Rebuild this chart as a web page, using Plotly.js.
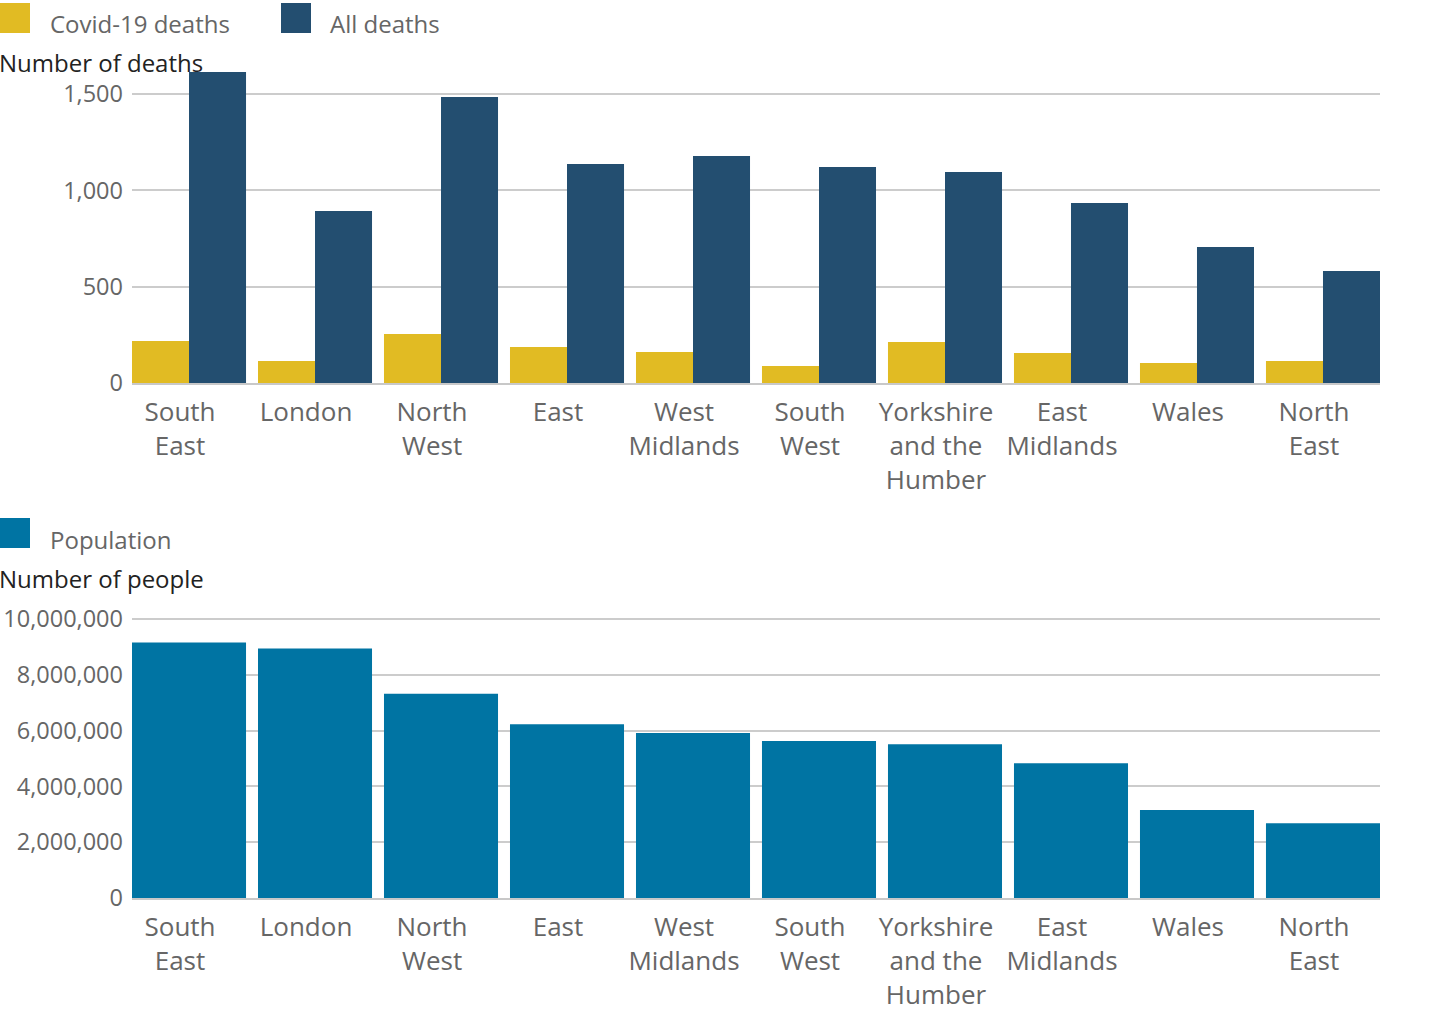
<!DOCTYPE html>
<html>
<head>
<meta charset="utf-8">
<script src="https://cdn.plot.ly/plotly-3.0.1.min.js"></script>
<style>
html,body{margin:0;padding:0;background:#fff;}
#chart{width:1448px;height:1034px;}
</style>
</head>
<body>
<div id="chart"></div>
<script>
// Data
var regionLabels = ["South<br>East", "London", "North<br>West", "East", "West<br>Midlands", "South<br>West", "Yorkshire<br>and the<br>Humber", "East<br>Midlands", "Wales", "North<br>East"];
var covidDeaths = [218, 114, 254, 187, 161, 88, 213, 156, 104, 114];
var allDeaths = [1614, 893, 1484, 1137, 1178, 1121, 1095, 934, 706, 581];
var population = [9160000, 8940000, 7320000, 6230000, 5910000, 5630000, 5510000, 4830000, 3150000, 2680000];
var deathsTicks = [0, 500, 1000, 1500];
var popTicks = [0, 2000000, 4000000, 6000000, 8000000, 10000000];
var seriesNames = ["Covid-19 deaths", "All deaths", "Population"];
var deathsTitle = "Number of deaths";
var popTitle = "Number of people";

var colYellow = "#e1bb23";
var colNavy = "#234e70";
var colTeal = "#0074a3";

var H = 1034;
function py(px){ return 1 - px / H; }

var traces = [
  {type:"bar", x:regionLabels, y:covidDeaths, name:seriesNames[0], marker:{color:colYellow}, xaxis:"x", yaxis:"y", hoverinfo:"y"},
  {type:"bar", x:regionLabels, y:allDeaths, name:seriesNames[1], marker:{color:colNavy}, xaxis:"x", yaxis:"y", hoverinfo:"y"},
  {type:"bar", x:regionLabels, y:population, name:seriesNames[2], marker:{color:colTeal}, xaxis:"x2", yaxis:"y2", hoverinfo:"y"}
];

var font = "'Open Sans', sans-serif";
var tickFontX = {family:font, size:26, color:"#666666"};
var tickFontY = {family:font, size:23.5, color:"#666666"};
var gap = 0.095;
var xr = [-0.5 + gap/2, regionLabels.length - 0.5 - gap/2];

var layout = {
  width:1448, height:1034,
  margin:{l:132, r:68, t:0, b:0},
  paper_bgcolor:"#ffffff", plot_bgcolor:"#ffffff",
  showlegend:false,
  barmode:"group", bargap:gap, bargroupgap:0,
  font:{family:font},
  xaxis:{domain:[0,1], anchor:"y", range:xr, tickfont:tickFontX, showgrid:false, zeroline:false, showline:true, linecolor:"#c8c8c8", linewidth:2, ticks:"", tickangle:0, ticklabelstandoff:5, ticklabelshift:-9},
  yaxis:{domain:[py(383), py(65)], anchor:"x", range:[0, 318/0.192667], tickvals:deathsTicks, ticktext:deathsTicks.map(function(v){return v.toLocaleString("en-GB");}), tickfont:tickFontY, showgrid:true, gridcolor:"#cccccc", gridwidth:2, zeroline:false, showline:false, ticks:"", ticklabelstandoff:8},
  xaxis2:{domain:[0,1], anchor:"y2", range:xr, tickfont:tickFontX, showgrid:false, zeroline:false, showline:true, linecolor:"#c8c8c8", linewidth:2, ticks:"", tickangle:0, ticklabelstandoff:5, ticklabelshift:-9},
  yaxis2:{domain:[py(898), py(614)], anchor:"x2", range:[0, 284/27.9*1000000], tickvals:popTicks, ticktext:popTicks.map(function(v){return v.toLocaleString("en-GB");}), tickfont:tickFontY, showgrid:true, gridcolor:"#cccccc", gridwidth:2, zeroline:false, showline:false, ticks:"", ticklabelstandoff:8},
  shapes:[
    {type:"rect", xref:"paper", yref:"paper", xsizemode:"pixel", ysizemode:"pixel", xanchor:0, yanchor:py(18), x0:-132, x1:-102, y0:-15, y1:15, fillcolor:colYellow, line:{width:0}},
    {type:"rect", xref:"paper", yref:"paper", xsizemode:"pixel", ysizemode:"pixel", xanchor:0, yanchor:py(18), x0:149, x1:179, y0:-15, y1:15, fillcolor:colNavy, line:{width:0}},
    {type:"rect", xref:"paper", yref:"paper", xsizemode:"pixel", ysizemode:"pixel", xanchor:0, yanchor:py(533), x0:-132, x1:-102, y0:-15, y1:15, fillcolor:colTeal, line:{width:0}}
  ],
  annotations:[
    {xref:"paper", yref:"paper", x:0, y:py(24), xshift:-84, xanchor:"left", yanchor:"middle", text:seriesNames[0], showarrow:false, font:{family:font, size:24, color:"#666666"}},
    {xref:"paper", yref:"paper", x:0, y:py(24), xshift:196, xanchor:"left", yanchor:"middle", text:seriesNames[1], showarrow:false, font:{family:font, size:24, color:"#666666"}},
    {xref:"paper", yref:"paper", x:0, y:py(539), xshift:-84, xanchor:"left", yanchor:"middle", text:seriesNames[2], showarrow:false, font:{family:font, size:24, color:"#666666"}},
    {xref:"paper", yref:"paper", x:0, y:py(62), xshift:-135, xanchor:"left", yanchor:"middle", text:deathsTitle, showarrow:false, font:{family:font, size:24, color:"#222222"}},
    {xref:"paper", yref:"paper", x:0, y:py(578), xshift:-135, xanchor:"left", yanchor:"middle", text:popTitle, showarrow:false, font:{family:font, size:24, color:"#222222"}}
  ]
};

Plotly.newPlot("chart", traces, layout, {displayModeBar:false, staticPlot:true});
</script>
</body>
</html>
